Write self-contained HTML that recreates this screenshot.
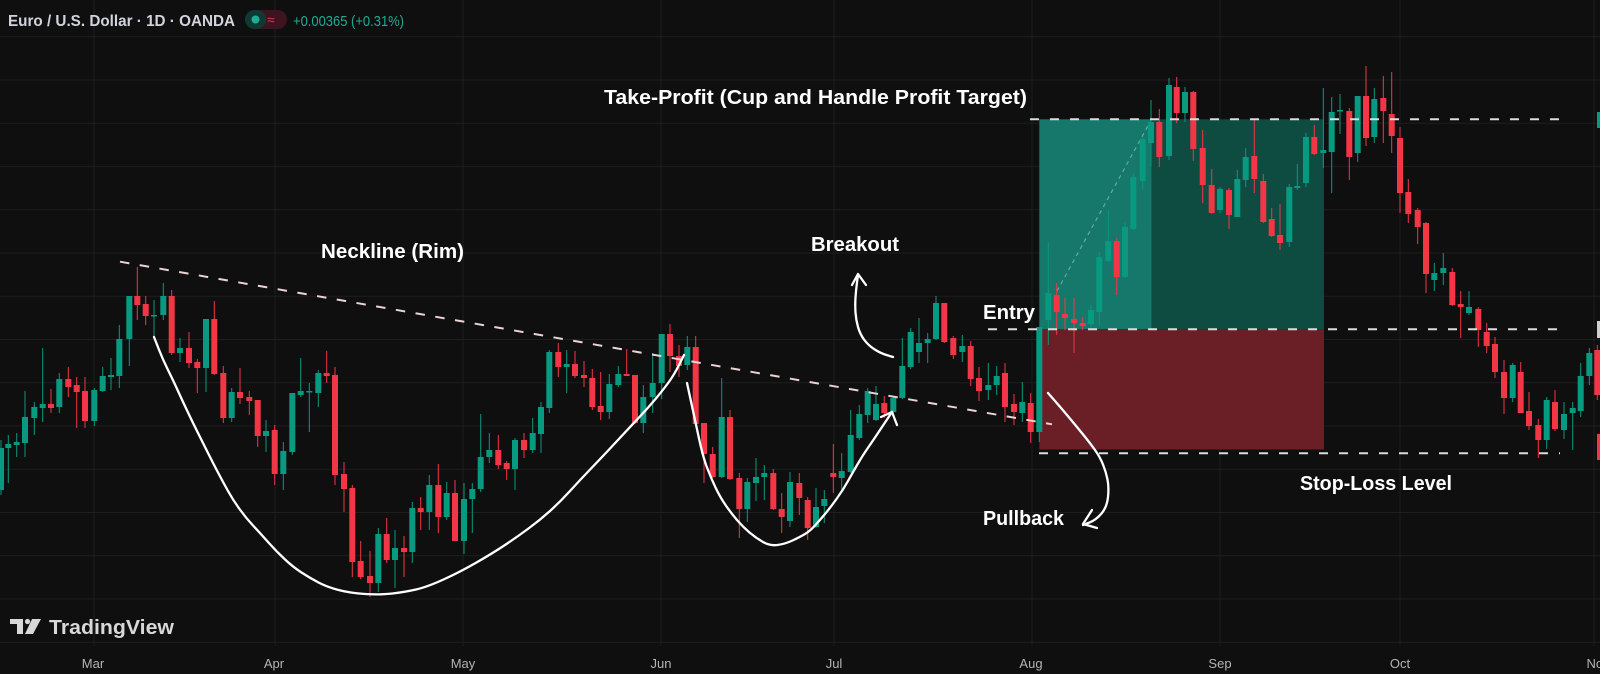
<!DOCTYPE html>
<html><head><meta charset="utf-8"><style>
html,body{margin:0;padding:0;background:#0f0f0f;}
svg{display:block;}
text{font-family:"Liberation Sans",sans-serif;}
</style></head><body>
<svg width="1600" height="674" viewBox="0 0 1600 674" xmlns="http://www.w3.org/2000/svg">
<rect x="0" y="0" width="1600" height="674" fill="#0f0f0f"/>
<!-- grid -->
<g stroke="#1e1e1e" stroke-width="1">
<path d="M0 36.8H1600M0 80H1600M0 123.3H1600M0 166.6H1600M0 209.8H1600M0 253H1600M0 296.3H1600M0 339.5H1600M0 382.8H1600M0 426H1600M0 469.3H1600M0 512.5H1600M0 555.8H1600M0 599H1600M0 642.3H1600"/>
<path d="M94 0V646M275 0V646M463 0V646M661 0V646M834 0V646M1032 0V646M1220 0V646M1400 0V646M1594 0V646"/>
</g>
<!-- position boxes -->
<rect x="1039.3" y="119.3" width="112.4" height="210" fill="#16786a"/>
<rect x="1151.7" y="119.3" width="172.3" height="210" fill="#0e4c41"/>
<rect x="1039.3" y="329.3" width="284.7" height="120.2" fill="#6a1f26"/>
<line x1="1057" y1="291" x2="1149" y2="124" stroke="rgba(190,235,220,0.45)" stroke-width="1.2" stroke-dasharray="4 4"/>
<!-- candles green -->
<path fill="none" stroke="#089981" stroke-width="1" d="M1 440V495M8.3 435V483M16.7 433V457M25 391V457M34.3 402V435M42.7 348V422M59.3 373V413M94.3 388V426M102.7 367V392M111 358V390M119.3 325V388M129.3 296V366M154 300V336M163.3 283V320M180 338V362M206 319V392M231.7 388V422M266 420V452M283.3 442V490M292.3 393V455M300.7 358V397M309.3 383V432M318.3 370V407M378.3 528V592M395 530V588M412.3 502V563M429.3 475V530M446.7 482V520M464 483V554M472.3 483V533M480.7 414V492M489.3 433V463M515 438V490M532.7 418V453M541 402V453M549.3 350V413M566.7 350V393M609.3 374V419M618.3 366V387M643.3 385V433M652.7 353V413M661.7 334V399M687.3 336V370M721.7 378V478M747.3 478V522M756 458V501M764.3 465V500M790 472V527M816 488V528M824.3 490V523M841.7 453V493M850.7 410V473M859.3 405V440M867.7 388V423M876 386V421M893.3 397V413M902.3 338V399M910.7 328V369M919 318V363M927.7 333V363M936 296V340M962.3 335V362M988.3 363V400M996.7 366V395M1022.3 382V422M1039.3 327V442M1048.3 243V345M1091 305V327M1099.3 252V325M1108.3 211V262M1125 223V278M1133.3 173V230M1142.7 137V189M1151 100V166M1169 78V160M1185 87V122M1220 187V213M1237.3 170V217M1245.7 148V187M1289.3 184V247M1297.3 164V190M1306 133V187M1323.3 88V168M1331.7 97V193M1340 94V134M1357.7 96V162M1374.3 88V143M1434.3 263V291M1443.3 253V285M1469 291V315M1512.7 363V402M1546.7 397V449M1564 402V439M1572.7 402V450M1580.7 363V417M1589.3 348V385"/>
<path fill="#089981" d="M-2 448h6V490h-6zM5.3 444h6V448h-6zM13.7 442h6V445h-6zM22 417h6V443h-6zM31.3 407h6V418h-6zM39.7 404h6V408h-6zM56.3 379h6V407h-6zM91.3 390h6V421h-6zM99.7 376h6V391h-6zM108 375h6V377h-6zM116.3 339h6V376h-6zM126.3 296h6V339h-6zM151 315h6V316.5h-6zM160.3 296h6V315h-6zM177 348h6V353h-6zM203 319h6V368h-6zM228.7 392h6V418h-6zM263 431h6V436h-6zM280.3 451h6V474h-6zM289.3 393h6V452h-6zM297.7 391h6V395h-6zM306.3 391h6V392.5h-6zM315.3 373h6V393h-6zM375.3 534h6V583h-6zM392 548h6V560h-6zM409.3 508h6V552h-6zM426.3 485h6V512h-6zM443.7 493h6V517h-6zM461 499h6V541h-6zM469.3 489h6V499h-6zM477.7 457h6V489h-6zM486.3 450h6V457h-6zM512 440h6V469h-6zM529.7 433h6V450h-6zM538 407h6V434h-6zM546.3 352h6V408h-6zM563.7 364h6V367h-6zM606.3 384h6V412h-6zM615.3 374h6V385h-6zM640.3 397h6V423h-6zM649.7 383h6V397h-6zM658.7 334h6V383h-6zM684.3 347h6V365h-6zM718.7 417h6V477h-6zM744.3 482h6V509h-6zM753 477h6V483h-6zM761.3 473h6V477h-6zM787 482h6V521h-6zM813 507h6V527h-6zM821.3 499h6V506h-6zM838.7 471h6V478h-6zM847.7 435h6V472h-6zM856.3 414h6V438h-6zM864.7 391h6V415h-6zM873 404h6V420h-6zM890.3 398h6V412h-6zM899.3 366h6V398h-6zM907.7 332h6V367h-6zM916 343h6V352h-6zM924.7 339h6V343h-6zM933 303h6V339h-6zM959.3 346h6V352h-6zM985.3 385h6V390h-6zM993.7 376h6V385h-6zM1019.3 402h6V413h-6zM1036.3 327h6V432h-6zM1045.3 293h6V320h-6zM1088 310h6V324h-6zM1096.3 257h6V312h-6zM1105.3 241h6V261h-6zM1122 227h6V277h-6zM1130.3 177h6V229h-6zM1139.7 139h6V181h-6zM1148 122h6V143h-6zM1166 85h6V156h-6zM1182 92h6V113h-6zM1217 189h6V210h-6zM1234.3 179h6V217h-6zM1242.7 157h6V180h-6zM1286.3 187h6V242h-6zM1294.3 186h6V188h-6zM1303 137h6V183h-6zM1320.3 150h6V153h-6zM1328.7 112h6V152h-6zM1337 110h6V111.5h-6zM1354.7 96h6V153h-6zM1371.3 99h6V137h-6zM1431.3 273h6V280h-6zM1440.3 268h6V273h-6zM1466 307h6V313h-6zM1509.7 365h6V398h-6zM1543.7 400h6V440h-6zM1561 414h6V430h-6zM1569.7 408h6V413h-6zM1577.7 376h6V411h-6zM1586.3 353h6V376h-6z"/>
<!-- candles red -->
<path fill="none" stroke="#f23645" stroke-width="1" d="M51 389V413M68.3 367V397M76.7 377V428M85 377V428M137.3 267V320M145.7 296V325M171.7 290V355M189 332V368M197.3 359V393M214.3 301V375M223.3 366V423M240 368V404M249.3 391V415M257.7 400V447M274.7 425V485M326.7 351V383M335 367V485M344 462V512M352.3 485V577M360.7 541V579M370 551V597M386.7 518V563M404 536V577M420.7 497V530M438.3 464V533M455 480V541M498.3 435V469M506.7 461V480M524 433V458M558.3 343V377M575 351V378M584 361V387M592.3 369V410M600.7 372V420M626.7 349V376M635 375V424M670 324V372M679 345V377M695.7 336V425M704 423V483M712.7 447V478M730 410V480M739.3 473V538M773.3 469V510M781.7 493V533M799.3 473V515M807.7 497V540M833.3 444V493M884.3 396V418M944.3 303V343M953.3 336V359M970.7 341V386M979 367V401M1005 363V422M1014 394V425M1030.7 393V443M1056.7 283V335M1065 298V330M1074 298V353M1082.7 317V330M1116.7 238V295M1159.3 109V167M1176.7 77V123M1193.3 91V161M1202.7 130V203M1211.7 169V214M1229 188V229M1254.3 119V193M1263.3 174V223M1271.7 208V237M1280 204V250M1314.3 125V155M1349.3 108V180M1366 66V146M1383.3 76V143M1391.7 72V153M1400 127V213M1408.3 179V223M1417.7 208V244M1426 222V293M1452.3 268V306M1460.7 291V338M1478.3 307V347M1486.7 323V353M1495 337V378M1504 360V414M1520.7 362V413M1529 392V430M1538.3 419V458M1555 390V431M1597.3 345V400"/>
<path fill="#f23645" d="M48 404h6V408h-6zM65.3 379h6V387h-6zM73.7 385h6V392h-6zM82 391h6V421h-6zM134.3 296h6V305h-6zM142.7 304h6V316h-6zM168.7 296h6V353h-6zM186 348h6V363h-6zM194.3 362h6V368h-6zM211.3 319h6V374h-6zM220.3 373h6V418h-6zM237 392h6V398h-6zM246.3 397h6V401h-6zM254.7 400h6V436h-6zM271.7 430h6V474h-6zM323.7 373h6V376h-6zM332 375h6V475h-6zM341 474h6V489h-6zM349.3 488h6V562h-6zM357.7 561h6V577h-6zM367 576h6V583h-6zM383.7 534h6V560h-6zM401 548h6V552h-6zM417.7 508h6V512h-6zM435.3 485h6V517h-6zM452 493h6V541h-6zM495.3 450h6V465h-6zM503.7 463h6V469h-6zM521 440h6V450h-6zM555.3 352h6V367h-6zM572 364h6V376h-6zM581 375h6V378h-6zM589.3 378h6V407h-6zM597.7 406h6V412h-6zM623.7 374h6V376h-6zM632 375h6V423h-6zM667 334h6V356h-6zM676 356h6V366h-6zM692.7 347h6V424h-6zM701 423h6V454h-6zM709.7 454h6V477h-6zM727 417h6V479h-6zM736.3 478h6V509h-6zM770.3 473h6V509h-6zM778.7 509h6V517h-6zM796.3 483h6V498h-6zM804.7 500h6V528h-6zM830.3 473h6V477h-6zM881.3 403h6V413h-6zM941.3 303h6V342h-6zM950.3 338h6V355h-6zM967.7 346h6V379h-6zM976 378h6V391h-6zM1002 373h6V407h-6zM1011 404h6V412h-6zM1027.7 403h6V432h-6zM1053.7 295h6V312h-6zM1062 314h6V318h-6zM1071 319h6V323h-6zM1079.7 323h6V326h-6zM1113.7 241h6V277h-6zM1156.3 122h6V157h-6zM1173.7 87h6V113h-6zM1190.3 92h6V149h-6zM1199.7 148h6V185h-6zM1208.7 185h6V213h-6zM1226 190h6V215h-6zM1251.3 156h6V179h-6zM1260.3 181h6V222h-6zM1268.7 219h6V236h-6zM1277 235h6V243h-6zM1311.3 137h6V154h-6zM1346.3 111h6V157h-6zM1363 96h6V138h-6zM1380.3 98h6V111h-6zM1388.7 114h6V136h-6zM1397 138h6V193h-6zM1405.3 192h6V214h-6zM1414.7 210h6V227h-6zM1423 223h6V274h-6zM1449.3 272h6V305h-6zM1457.7 304h6V307h-6zM1475.3 309h6V330h-6zM1483.7 332h6V346h-6zM1492 344h6V372h-6zM1501 372h6V398h-6zM1517.7 372h6V413h-6zM1526 411h6V426h-6zM1535.3 425h6V440h-6zM1552 402h6V429h-6zM1594.3 350h6V395h-6z"/>
<!-- dashed levels -->
<g stroke="#dcdcdc" stroke-width="2" stroke-dasharray="9 11" fill="none">
<line x1="1030" y1="119.3" x2="1564" y2="119.3"/>
<line x1="988" y1="329.3" x2="1564" y2="329.3"/>
<line x1="1039" y1="453.3" x2="1560" y2="453.3"/>
</g>
<line x1="120" y1="261.7" x2="1052" y2="424.3" stroke="#ecd3d3" stroke-width="2" stroke-dasharray="9.5 10.5"/>
<!-- curves -->
<g stroke="#ffffff" stroke-width="2.3" fill="none" stroke-linecap="round" stroke-linejoin="round">
<path d="M154 337L158.5 348.5Q163 360 168 370Q173 380 178 391Q183 402 188 412.5Q193 423 198 433Q203 443 208 453Q213 463 218 472.5Q223 482 228 491Q233 500 239.5 509Q246 518 253 525.5Q260 533 268 542Q276 551 284.5 559Q293 567 301.5 572.5Q310 578 318.5 582.5Q327 587 338.5 590Q350 593 365 594Q380 595 392.5 593.5Q405 592 416 589.5Q427 587 443.5 579.5Q460 572 476.5 562.5Q493 553 505 545Q517 537 528.5 528.5Q540 520 550 511Q560 502 570 491Q580 480 592.5 467Q605 454 617.5 440.5Q630 427 639 417.5Q648 408 655.5 399Q663 390 668.5 382.5Q674 375 679 365L684 355"/>
<path d="M687 383L691 401.5Q695 420 699 438.5Q703 457 707 467.5Q711 478 715.5 487.5Q720 497 725.5 505Q731 513 737 520Q743 527 749.5 532.5Q756 538 763 542Q770 546 777.5 545Q785 544 792.5 540.5Q800 537 805 534Q810 531 815 525.5Q820 520 825 514Q830 508 836.5 499Q843 490 848 481Q853 472 858 463.5Q863 455 867.5 448.5Q872 442 876 436Q880 430 883 425.5Q886 421 889 416.5L892 412"/>
<path d="M881 417L892 412L897 425"/>
<path d="M893 357L886.5 355Q880 353 874 349Q868 345 864 339.5Q860 334 858 327Q856 320 855.5 312.5Q855 305 855.5 297.5Q856 290 857 282.5L858 275"/>
<path d="M852 285L858 274L866 285"/>
<path d="M1048 393L1055 401Q1062 409 1069.5 418Q1077 427 1083.5 435Q1090 443 1095 450Q1100 457 1103 464.5Q1106 472 1107.5 479.5Q1109 487 1108 497Q1107 507 1101.5 513.5Q1096 520 1089.5 522.5L1083 525"/>
<path d="M1092 510L1083 524L1097 528"/>
</g>
<!-- annotations -->
<g fill="#ffffff" font-weight="bold" font-size="20">
<text x="604" y="104" textLength="423" lengthAdjust="spacingAndGlyphs">Take-Profit (Cup and Handle Profit Target)</text>
<text x="321" y="258" textLength="143" lengthAdjust="spacingAndGlyphs">Neckline (Rim)</text>
<text x="811" y="251" textLength="88" lengthAdjust="spacingAndGlyphs">Breakout</text>
<text x="983" y="319" textLength="52" lengthAdjust="spacingAndGlyphs">Entry</text>
<text x="983" y="525" textLength="81" lengthAdjust="spacingAndGlyphs">Pullback</text>
<text x="1300" y="490" textLength="152" lengthAdjust="spacingAndGlyphs">Stop-Loss Level</text>
</g>
<!-- right edge price tags -->
<rect x="1597" y="112" width="3" height="16" fill="#089981"/>
<rect x="1597" y="321" width="3" height="17" fill="#cfcfcf"/>
<rect x="1597" y="434" width="3" height="26" fill="#f23645"/>
<!-- header -->
<text x="8" y="26" font-size="16" font-weight="600" fill="#d1d4dc" textLength="227" lengthAdjust="spacingAndGlyphs">Euro / U.S. Dollar · 1D · OANDA</text>
<rect x="245" y="10" width="42" height="19" rx="9.5" fill="#3d1420"/>
<rect x="245" y="10" width="21" height="19" rx="9.5" fill="#0f3a33"/>
<circle cx="255.5" cy="19.5" r="4" fill="#22ab94"/>
<text x="267" y="24.5" font-size="14" fill="#e0315a">≈</text>
<text x="293" y="26" font-size="15" fill="#22ab94" textLength="111" lengthAdjust="spacingAndGlyphs">+0.00365 (+0.31%)</text>
<!-- watermark -->
<g fill="#d8d8d8">
<rect x="10" y="619" width="13" height="5"/>
<rect x="17" y="619" width="6" height="15"/>
<circle cx="27.5" cy="621.5" r="2.6"/>
<polygon points="32,619 41,619 33,634 25,634"/>
<text x="49" y="634" font-size="20" font-weight="600" textLength="125" lengthAdjust="spacingAndGlyphs">TradingView</text>
</g>
<!-- time axis -->
<g fill="#b4b4b4" font-size="13" text-anchor="middle">
<text x="93" y="668">Mar</text>
<text x="274" y="668">Apr</text>
<text x="463" y="668">May</text>
<text x="661" y="668">Jun</text>
<text x="834" y="668">Jul</text>
<text x="1031" y="668">Aug</text>
<text x="1220" y="668">Sep</text>
<text x="1400" y="668">Oct</text>
<text x="1598" y="668">Nov</text>
</g>
</svg>
</body></html>
